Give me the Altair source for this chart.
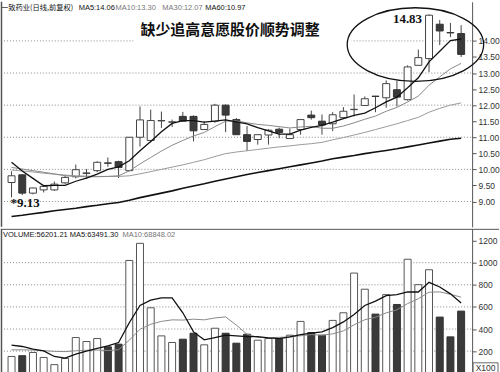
import altair as alt
import pandas as pd

# ---------------- data ----------------
idx = list(range(43))
opens = [9.59, 9.83, 9.26, 9.36, 9.36, 9.58, 9.77, 9.87, 9.96, 10.20, 10.24, 9.96, 11.00, 10.90,
         11.51, 11.47, 11.65, 11.65, 11.24, 11.50, 12.00, 11.55, 11.08, 10.93, 11.07, 11.25, 10.96,
         11.24, 11.69, 11.50, 11.42, 11.61, 11.86, 11.99, 12.28, 12.23, 12.48, 12.17, 13.24, 13.45,
         14.52, 14.26, 14.23]
closes = [9.80, 9.26, 9.42, 9.47, 9.54, 9.75, 9.99, 9.89, 10.22, 10.19, 10.06, 11.00, 11.54, 11.52,
          11.52, 11.48, 11.50, 11.20, 11.40, 12.00, 11.69, 11.08, 10.87, 11.08, 11.22, 11.15, 11.08,
          11.55, 11.61, 11.38, 11.70, 11.81, 11.87, 12.20, 12.27, 12.67, 12.25, 13.19, 13.48, 14.80,
          14.31, 14.25, 13.58]
highs = [9.94, 9.85, 9.43, 9.52, 9.62, 9.83, 10.15, 10.01, 10.25, 10.37, 10.27, 11.00, 11.96, 11.86,
         11.80, 11.55, 11.79, 11.68, 11.50, 12.04, 12.02, 11.60, 11.35, 11.08, 11.25, 11.30, 11.27,
         11.56, 11.83, 11.71, 11.78, 11.94, 12.33, 12.27, 12.29, 12.77, 12.75, 13.24, 13.73, 14.83,
         14.65, 14.56, 14.49]
lows = [9.13, 9.20, 9.22, 9.28, 9.33, 9.55, 9.72, 9.70, 9.91, 10.08, 9.73, 9.95, 10.71, 10.84,
        11.29, 11.32, 11.50, 10.87, 11.24, 11.45, 11.16, 11.08, 10.57, 10.77, 10.77, 10.97, 10.96,
        11.08, 11.55, 11.08, 11.19, 11.61, 11.65, 11.99, 11.78, 11.92, 11.96, 12.14, 13.24, 13.03,
        13.87, 14.12, 13.50]
ma5 = [10.22, 9.95, 9.72, 9.49, 9.50, 9.50, 9.63, 9.73, 9.85, 10.00, 10.08, 10.27, 10.58, 10.87,
       11.17, 11.43, 11.52, 11.52, 11.47, 11.50, 11.54, 11.48, 11.42, 11.30, 11.20, 11.10, 11.10,
       11.22, 11.31, 11.37, 11.47, 11.58, 11.68, 11.75, 11.92, 12.10, 12.25, 12.54, 12.85, 13.35,
       13.68, 14.01, 14.06]
ma10 = [10.06, 10.01, 9.96, 9.91, 9.86, 9.80, 9.78, 9.77, 9.77, 9.78, 9.80, 9.95, 10.17, 10.37,
        10.57, 10.75, 10.90, 11.04, 11.15, 11.33, 11.50, 11.51, 11.45, 11.40, 11.37, 11.33, 11.29,
        11.32, 11.34, 11.28, 11.28, 11.35, 11.45, 11.56, 11.66, 11.81, 11.93, 12.10, 12.28, 12.62,
        12.88, 13.13, 13.30]
ma30 = [9.98, 9.95, 9.92, 9.88, 9.85, 9.82, 9.80, 9.79, 9.78, 9.78, 9.78, 9.80, 9.86, 9.93,
        10.00, 10.07, 10.14, 10.22, 10.30, 10.40, 10.49, 10.54, 10.58, 10.62, 10.66, 10.70, 10.73,
        10.77, 10.80, 10.84, 10.92, 10.99, 11.07, 11.15, 11.24, 11.33, 11.42, 11.52, 11.62, 11.78,
        11.90, 12.00, 12.07]
ma60 = [8.53, 8.57, 8.62, 8.66, 8.71, 8.75, 8.79, 8.84, 8.88, 8.93, 8.97, 9.04, 9.12, 9.19,
        9.26, 9.33, 9.41, 9.48, 9.55, 9.63, 9.70, 9.77, 9.84, 9.90, 9.96, 10.02, 10.08,
        10.14, 10.20, 10.26, 10.33, 10.38, 10.43, 10.49, 10.54, 10.59, 10.64, 10.70, 10.76, 10.82,
        10.88, 10.94, 10.97]
vol = [152, 159, 188, 143, 78, 134, 323, 287, 314, 239, 263, 1020, 1175, 592, 338, 278, 308, 362,
       257, 407, 362, 272, 353, 299, 314, 314, 344, 469, 368, 344, 478, 547, 906, 760, 535, 711,
       622, 1031, 801, 936, 508, 329, 562]
vma5 = [254, 242, 218, 203, 152, 137, 173, 200, 224, 248, 278, 457, 613, 661, 682, 682, 547, 374,
        302, 323, 344, 338, 332, 332, 320, 314, 330, 350, 362, 374, 413, 464, 532, 613, 652, 702,
        711, 735, 735, 822, 780, 718, 635]
vma10 = [212, 212, 210, 205, 198, 196, 203, 208, 210, 205, 213, 299, 398, 443, 469, 483, 481, 489,
         483, 500, 510, 435, 353, 324, 321, 325, 328, 339, 350, 344, 356, 383, 438, 484, 507, 546,
         574, 630, 674, 733, 736, 714, 688]

price_ticks = [9.0, 9.5, 10.0, 10.5, 11.0, 11.5, 12.0, 12.5, 13.0, 13.5, 14.0]
price_grid = [9.0, 10.0, 11.0, 12.0, 13.0, 14.0]
vol_ticks = [200, 400, 600, 800, 1000, 1200]
vol_grid = [200, 400, 600, 800, 1000]

title_text = "缺少追高意愿股价顺势调整"
header_name = "一致药业(日线,前复权)"
header_ma = ["MA5:14.06", "MA10:13.30", "MA30:12.07", "MA60:10.97"]
vol_header = ["VOLUME:56201.21", "MA5:63491.30", "MA10:68848.02"]
high_label = {"i": [39], "p": [14.83], "t": ["14.83"]}
low_label = {"i": [0], "p": [9.13], "t": ["*9.13"]}
ellipse_center = {"i": [37.73], "p": [13.885]}

# ---------------- chart ----------------
df = pd.DataFrame({"i": idx, "open": opens, "close": closes, "high": highs, "low": lows,
                   "ma5": ma5, "ma10": ma10, "ma30": ma30, "ma60": ma60,
                   "vol": vol, "vma5": vma5, "vma10": vma10})
df["dir"] = ["up" if c >= o else "down" for o, c in zip(opens, closes)]

W, PH, VH = 473, 226, 145
one = alt.Data(values=[{}])

xsc = alt.Scale(domain=[-0.52, 42.56], nice=False, zero=False)
psc = alt.Scale(domain=[8.21, 15.22], nice=False, zero=False)
vsc = alt.Scale(domain=[0, 1306], nice=False, zero=False)
X = alt.X("i:Q", scale=xsc, axis=None)

axis_common = dict(orient="right", grid=False, domainColor="#555", tickColor="#555",
                   tickSize=4, labelPadding=2, labelFontSize=8.5, labelFont="Liberation Sans",
                   labelColor="#333", title=None, domainWidth=1)
paxis = alt.Axis(values=price_ticks, format=".2f", **axis_common)
vaxis = alt.Axis(values=vol_ticks, format="d", **axis_common)


def PY(f):
    return alt.Y(f, type="quantitative", scale=psc, axis=paxis)


def VY(f):
    return alt.Y(f, type="quantitative", scale=vsc, axis=vaxis)


gridp = alt.Chart(pd.DataFrame({"g": price_grid})).mark_rule(
    color="#888", strokeDash=[1, 2], strokeWidth=1).encode(
    y=PY("g"), x=alt.value(0), x2=alt.value(W))

title_bg = alt.Chart(one).mark_rect(fill="white").encode(
    x=alt.value(133), x2=alt.value(352), y=alt.value(13), y2=alt.value(45))

base = alt.Chart(df)
wicks = base.mark_rule(color="#444", strokeWidth=1).encode(x=X, y=PY("low"), y2="high")
bodies = base.mark_bar(size=7, strokeWidth=1).encode(
    x=X, y=PY("open"), y2="close",
    fill=alt.condition(alt.datum.dir == "up", alt.value("white"), alt.value("#3a3a3a")),
    stroke=alt.condition(alt.datum.dir == "up", alt.value("#444"), alt.value("#333")))

l60 = base.mark_line(color="#111", strokeWidth=1.6).encode(x=X, y=PY("ma60"))
l30 = base.mark_line(color="#999", strokeWidth=1).encode(x=X, y=PY("ma30"))
l10 = base.mark_line(color="#888", strokeWidth=1).encode(x=X, y=PY("ma10"))
l5 = base.mark_line(color="#111", strokeWidth=1.3).encode(x=X, y=PY("ma5"))

hi_txt = alt.Chart(pd.DataFrame(high_label)).mark_text(
    align="right", baseline="middle", dx=-7, dy=5, font="Liberation Serif",
    fontWeight="bold", fontSize=13, color="#111").encode(x=X, y=PY("p"), text="t:N")
lo_txt = alt.Chart(pd.DataFrame(low_label)).mark_text(
    align="left", baseline="middle", dx=-1, dy=6, font="Liberation Serif",
    fontWeight="bold", fontSize=13, color="#111").encode(x=X, y=PY("p"), text="t:N")

ELLIPSE = "M -1 0 A 1 0.54 0 1 1 1 0 A 1 0.54 0 1 1 -1 0 Z"
ell = alt.Chart(pd.DataFrame(ellipse_center)).mark_point(
    shape=ELLIPSE, size=18769, filled=False, color="#111", strokeWidth=1.3, opacity=1).encode(
    x=X, y=PY("p"))

title = alt.Chart(one).mark_text(
    align="left", baseline="middle", font="Noto Sans CJK SC", fontWeight="bold",
    fontSize=15, color="#111").encode(x=alt.value(140), y=alt.value(28),
                                      text=alt.value(title_text))


def htext(t, x, y, color="#111", font="Liberation Sans", size=7.5, weight="normal"):
    return alt.Chart(one).mark_text(align="left", baseline="middle", font=font, fontSize=size,
                                    color=color, fontWeight=weight).encode(
        x=alt.value(x), y=alt.value(y), text=alt.value(t))


hdr = [htext(header_name, 0, 6, font="Noto Sans CJK SC", size=7.3),
       htext(header_ma[0], 78, 6),
       htext(header_ma[1], 115, 6, color="#777"),
       htext(header_ma[2], 162, 6, color="#777"),
       htext(header_ma[3], 205, 6)]

left_p = alt.Chart(one).mark_rule(color="#555", strokeWidth=1.5).encode(
    x=alt.value(0.5), y=alt.value(0), y2=alt.value(PH))

price = alt.layer(gridp, title_bg, wicks, bodies, l60, l30, l10, l5, hi_txt, lo_txt, ell,
                  title, *hdr, left_p).properties(width=W, height=PH)

# volume panel
gridv = alt.Chart(pd.DataFrame({"g": vol_grid})).mark_rule(
    color="#888", strokeDash=[1, 2], strokeWidth=1).encode(
    y=VY("g"), x=alt.value(0), x2=alt.value(W))
vbars = base.mark_bar(size=7, strokeWidth=1).encode(
    x=X, y=VY("vol"),
    fill=alt.condition(alt.datum.dir == "up", alt.value("white"), alt.value("#3a3a3a")),
    stroke=alt.condition(alt.datum.dir == "up", alt.value("#555"), alt.value("#333")))
vl10 = base.mark_line(color="#888", strokeWidth=1).encode(x=X, y=VY("vma10"))
vl5 = base.mark_line(color="#111", strokeWidth=1.3).encode(x=X, y=VY("vma5"))
vhdr = [htext(vol_header[0], 2, 6),
        htext(vol_header[1], 69, 6),
        htext(vol_header[2], 122, 6, color="#777")]
divider = alt.Chart(one).mark_rule(color="#555", strokeWidth=1).encode(
    x=alt.value(0), x2=alt.value(500), y=alt.value(0.5))
left_v = alt.Chart(one).mark_rule(color="#555", strokeWidth=1.5).encode(
    x=alt.value(0.5), y=alt.value(0), y2=alt.value(VH))
xbox = alt.Chart(one).mark_rect(fill="white", stroke="#666", strokeWidth=1).encode(
    x=alt.value(474), x2=alt.value(499), y=alt.value(134.5), y2=alt.value(144.5))
xtxt = alt.Chart(one).mark_text(align="center", baseline="middle", font="Liberation Sans",
                                fontSize=8.5, color="#333").encode(
    x=alt.value(486.5), y=alt.value(139.5), text=alt.value("X100"))

volc = alt.layer(gridv, vbars, vl10, vl5, *vhdr, divider, left_v, xbox, xtxt).properties(
    width=W, height=VH)

chart = alt.vconcat(price, volc, spacing=0, padding=0).configure_view(stroke=None)
chart.save("out.html", embed_options={"renderer": "svg", "actions": False})
